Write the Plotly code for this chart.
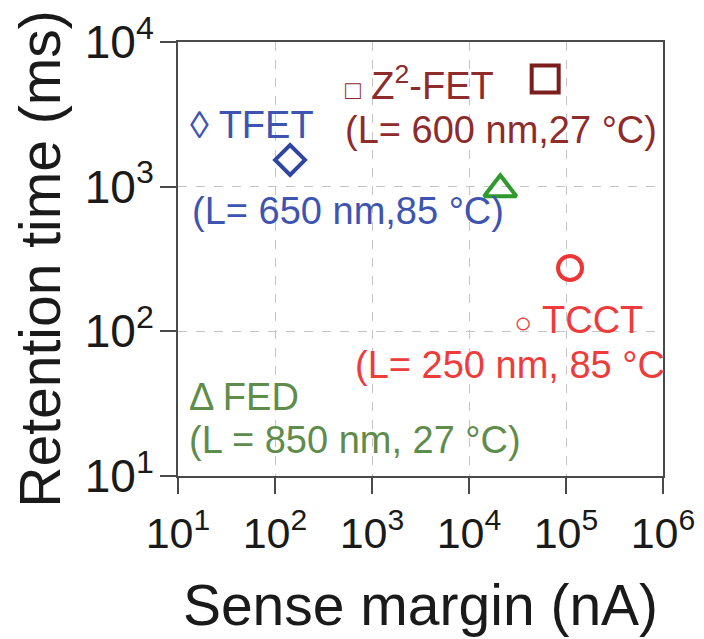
import plotly.graph_objects as go

# ---- data ----
devices = ["TFET", "Z²-FET", "FED", "TCCT"]
sense_margin_nA = [143, 6.1e4, 2.1e4, 1.1e5]
retention_ms = [1530, 5550, 960, 274]

x_tickvals = [1e1, 1e2, 1e3, 1e4, 1e5, 1e6]
x_ticktext = ["10<sup>1</sup>", "10<sup>2</sup>", "10<sup>3</sup>",
              "10<sup>4</sup>", "10<sup>5</sup>", "10<sup>6</sup>"]
y_tickvals = [1e1, 1e2, 1e3, 1e4]
y_ticktext = ["10<sup>1</sup>", "10<sup>2</sup>", "10<sup>3</sup>", "10<sup>4</sup>"]

symbols = ["diamond-open", "square-open", "triangle-up-open", "circle-open"]
marker_colors = ["#2F45A2", "#7A1E1E", "#2E9A2E", "#EE3535"]
marker_sizes = [23, 27, 28, 24]

FONT = "Liberation Sans, Arial, sans-serif"

fig = go.Figure()
for name, xv, yv, sym, col, sz in zip(devices, sense_margin_nA, retention_ms,
                                      symbols, marker_colors, marker_sizes):
    fig.add_trace(go.Scatter(
        x=[xv], y=[yv], mode="markers", name=name, showlegend=False,
        marker=dict(symbol=sym, size=sz, color=col, line=dict(color=col, width=4)),
    ))

# text labels (positions in paper coordinates)
labels = [
    ("◊ TFET", 0.021, 0.809, "#3D55B0"),
    ("(L= 650 nm,85 °C)", 0.024, 0.611, "#3D55B0"),
    ("<span style='font-size:26px'>□</span> Z<sup>2</sup>-FET", 0.340, 0.906, "#8E2B2B"),
    ("(L= 600 nm,27 °C)", 0.340, 0.798, "#8E2B2B"),
    ("<span style='font-size:30px'>○</span> TCCT", 0.688, 0.359, "#EE3B3B"),
    ("(L= 250 nm, 85 °C", 0.360, 0.256, "#EE3B3B"),
    ("Δ FED", 0.019, 0.182, "#5E8C4A"),
    ("(L = 850 nm, 27 °C)", 0.019, 0.083, "#5E8C4A"),
]
for txt, ax, ay, col in labels:
    fig.add_annotation(
        text=txt, x=ax, y=ay, xref="paper", yref="paper",
        xanchor="left", yanchor="middle", showarrow=False,
        font=dict(family=FONT, size=38, color=col),
    )

axis_common = dict(
    type="log",
    showline=True, mirror=True, linecolor="#4a4a4a", linewidth=2,
    ticks="outside", ticklen=16, tickwidth=2, tickcolor="#4a4a4a",
    showgrid=True, gridcolor="#c4c4c4", gridwidth=1, griddash="dash",
    zeroline=False,
    automargin=False,
)

fig.update_xaxes(
    **axis_common,
    range=[1, 6], tickvals=x_tickvals, ticktext=x_ticktext,
    tickfont=dict(family=FONT, size=43, color="#1a1a1a"),
    ticklabelstandoff=2,
    title=dict(text="Sense margin (nA)", font=dict(family=FONT, size=57, color="#1a1a1a"),
               standoff=30),
)
fig.update_yaxes(
    **axis_common,
    range=[1, 4], tickvals=y_tickvals, ticktext=y_ticktext,
    tickfont=dict(family=FONT, size=46, color="#1a1a1a"),
    ticklabelstandoff=-3,
    title=dict(text="Retention time (ms)", font=dict(family=FONT, size=57, color="#1a1a1a"),
               standoff=11),
)

# page body has an 8px margin, so the figure is 8px smaller than the window
fig.update_layout(
    width=696, height=631,
    margin=dict(l=170, r=41, t=34, b=163),
    paper_bgcolor="white", plot_bgcolor="white",
    font=dict(family=FONT),
)

fig.write_html("out.html")
